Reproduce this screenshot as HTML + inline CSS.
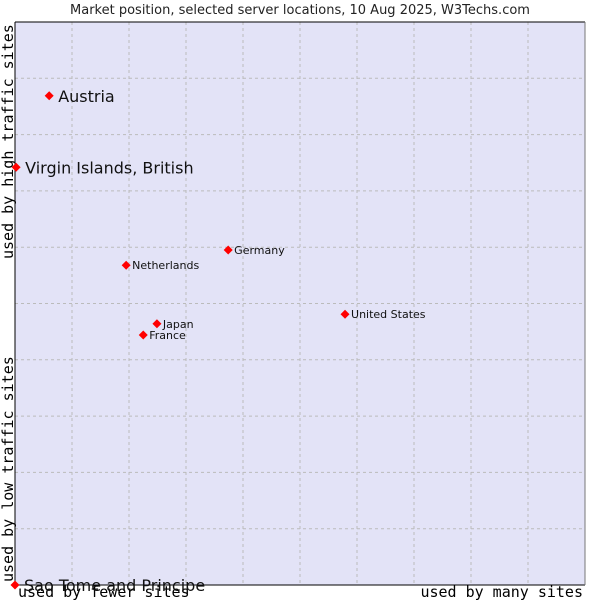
<!DOCTYPE html>
<html><head><meta charset="utf-8"><style>
body{margin:0;background:#fff;}
svg text{font-family:"DejaVu Sans","Liberation Sans",sans-serif;}
.mono{font-family:"DejaVu Sans Mono","Liberation Mono",monospace;}
</style></head><body>
<svg id="chart" width="600" height="600">
<text x="300" y="14" text-anchor="middle" font-size="13" fill="#222">Market position, selected server locations, 10 Aug 2025, W3Techs.com</text>
<rect x="15" y="22" width="570" height="563" fill="#e3e3f7"/>
<g id="grid"></g>
<line x1="15" y1="22" x2="15" y2="585" stroke="#000"/>
<line x1="15" y1="585" x2="585" y2="585" stroke="#000"/>
<line x1="15" y1="22" x2="585" y2="22" stroke="#000"/>
<line x1="585" y1="22" x2="585" y2="585" stroke="#777"/>
<text class="mono" transform="translate(13,582) rotate(-90)" font-size="15">used by low traffic sites</text>
<text class="mono" transform="translate(13,259) rotate(-90)" font-size="15">used by high traffic sites</text>
<text class="mono" x="18" y="597" font-size="15">used by fewer sites</text>
<text class="mono" x="583" y="597" font-size="15" text-anchor="end">used by many sites</text>
<g id="points"></g>
</svg>
<script>
const countries=["Austria","Virgin Islands, British","Germany","Netherlands","United States","Japan","France","Sao Tome and Principe"];
const xValues=[6,0.2,37.4,19.5,57.9,24.9,22.5,0];
const yValues=[86.9,74.2,59.5,56.8,48.1,46.4,44.4,0];
const labelSizes=[16,16,11,11,11,11,11,16];
const NS="http://www.w3.org/2000/svg";
const L=15,R=585,T=22,B=585;
const xs=v=>L+v/100*(R-L);
const ys=v=>B-v/100*(B-T);
const grid=document.getElementById('grid');
for(let i=1;i<10;i++){
  const gx=document.createElementNS(NS,'line');
  
  
  gx.setAttribute('x1',xs(i*10));gx.setAttribute('x2',xs(i*10));
  gx.setAttribute('y1',T);gx.setAttribute('y2',B);
  gx.setAttribute('stroke','#bbb');gx.setAttribute('stroke-dasharray','3,3');
  grid.appendChild(gx);
  const gy=document.createElementNS(NS,'line');
  
  
  gy.setAttribute('y1',ys(i*10));gy.setAttribute('y2',ys(i*10));
  gy.setAttribute('x1',L);gy.setAttribute('x2',R);
  gy.setAttribute('stroke','#bbb');gy.setAttribute('stroke-dasharray','3,3');
  grid.appendChild(gy);
}
const pts=document.getElementById('points');
countries.forEach((c,i)=>{
  const px=xs(xValues[i]),py=ys(yValues[i]);
  const d=document.createElementNS(NS,'path');
  
  
  d.setAttribute('d',`M${px-4.5},${py}L${px},${py-4.5}L${px+4.5},${py}L${px},${py+4.5}Z`);
  d.setAttribute('fill','#f00');
  pts.appendChild(d);
  const t=document.createElementNS(NS,'text');
  
  
  const big=labelSizes[i]>12;
  t.setAttribute('x',px+(big?9:6));
  t.setAttribute('y',py+(big?6:4));
  t.setAttribute('font-size',labelSizes[i]);
  t.setAttribute('fill','#111');
  t.textContent=c;
  pts.appendChild(t);
});
</script>
</body></html>
